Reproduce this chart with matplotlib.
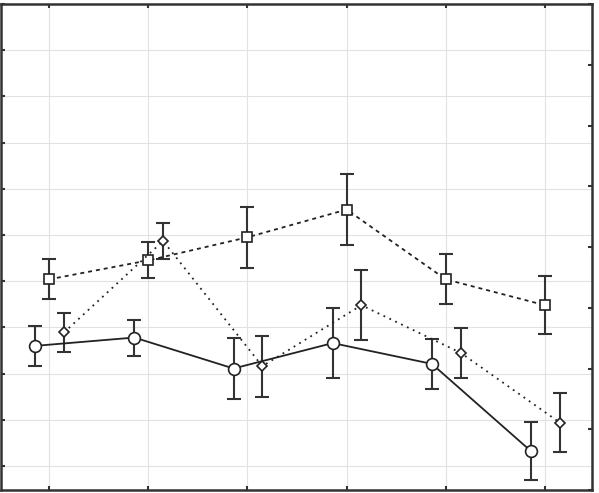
import matplotlib
matplotlib.use('Agg')
import matplotlib.pyplot as plt
import numpy as np

# Data (axes carry no labels)
groups = [1, 2, 3, 4, 5, 6]
circle_vals = [2.60, 2.78, 2.11, 2.66, 2.21, 0.32]
square_vals = [4.04, 4.45, 4.95, 5.55, 4.04, 3.48]
diamond_vals = [2.89, 4.87, 2.16, 3.48, 2.45, 0.94]
errors = [0.43, 0.39, 0.66, 0.76, 0.54, 0.63]

offsets = [-0.14, 0.0, 0.15]

fig = plt.figure(figsize=(5.99, 4.93), dpi=100)
ax = fig.add_axes([1 / 599, 3 / 493, 591 / 599, 486 / 493])

x = np.array(groups, dtype=float)
series = [
    (circle_vals, 'o', '-', 8.5, offsets[0]),
    (square_vals, 's', (0, (2.2, 2.2)), 7.5, offsets[1]),
    (diamond_vals, 'D', (0, (1, 2.6)), 5.5, offsets[2]),
]

for vals, marker, ls, ms, off in series:
    xs = x + off
    ax.errorbar(xs, vals, yerr=errors, fmt='none', ecolor='#333333',
                elinewidth=1.5, capsize=5, capthick=1.5, zorder=2)
    ax.plot(xs, vals, color='#222222', linestyle=ls, linewidth=1.3,
            marker=marker, markersize=ms, markerfacecolor='white',
            markeredgecolor='#222222', markeredgewidth=1.2, zorder=3)

ax.set_xlim(0.515, 6.475)
ax.set_ylim(-0.52, 10)
ax.set_xticks(groups)
ax.set_yticks(np.arange(0, 11, 1))
ax.set_xticklabels([])
ax.set_yticklabels([])
ax.grid(True, color='#e2e2e2', linewidth=0.8)
ax.set_axisbelow(True)
ax.tick_params(direction='in', length=3, width=1.5, color='#333333',
               top=True, right=False)

for sp in ax.spines.values():
    sp.set_linewidth(1.8)
    sp.set_color('#333333')

# secondary scale on the right with its own ticks
ax2 = ax.twinx()
ax2.set_ylim(0, 8)
ax2.set_yticks(np.arange(0, 9, 1))
ax2.set_yticklabels([])
ax2.tick_params(direction='in', length=3, width=1.5, color='#333333')
for sp in ax2.spines.values():
    sp.set_visible(False)

fig.savefig('out.png', dpi=100)
plt.close(fig)
